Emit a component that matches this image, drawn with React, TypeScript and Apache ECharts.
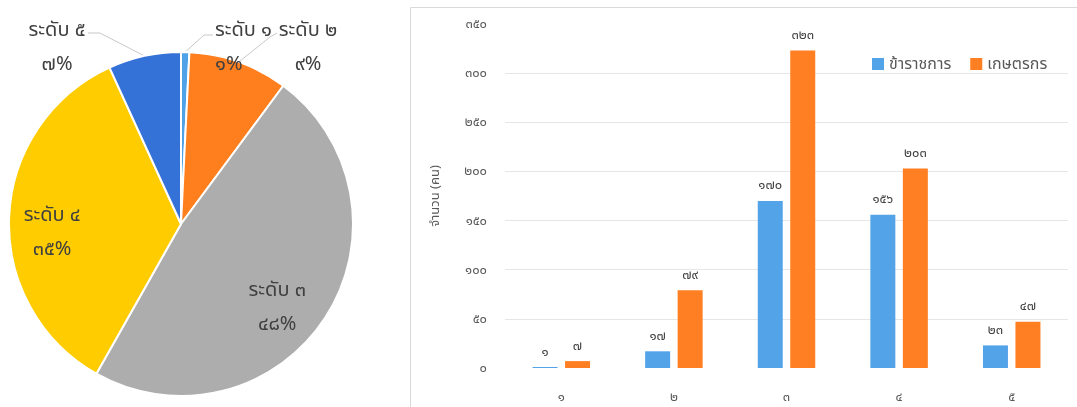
import React, { useEffect, useRef } from "react";
import * as echarts from "echarts";

const levelNames = ["ระดับ ๑", "ระดับ ๒", "ระดับ ๓", "ระดับ ๔", "ระดับ ๕"];
const levelTotals = [8, 96, 493, 359, 70];
const levelColors = ["#4FA2E8", "#FF7F1F", "#ADADAD", "#FFCC00", "#3572D8"];

const categories = ["๑", "๒", "๓", "๔", "๕"];
const seriesNames = ["ข้าราชการ", "เกษตรกร"];
const officials = [1, 17, 170, 156, 23];
const farmers = [7, 79, 323, 203, 47];
const barColors = ["#53A3E8", "#FF7F22"];

const FONT = "'Noto Sans Thai', 'Noto Sans', 'DejaVu Sans', sans-serif";
const THAI_DIGITS = "๐๑๒๓๔๕๖๗๘๙";
const toThai = (v: number | string) =>
  String(v).replace(/[0-9]/g, (d) => THAI_DIGITS[+d]);

const total = levelTotals.reduce((a, b) => a + b, 0);
const pctLabel = (name: string, value: number) =>
  `${name}\n${toThai(Math.round((value / total) * 100))}%`;

// placement of the outside pie labels (text anchor + leader line bends)
const outsideLabels: Record<number, any> = {
  0: { x: 215, y: 47, align: "left", line: [[204, 35], [213, 35]] },
  1: { x: 308, y: 47, align: "center", line: [[270, 37], [277, 33]] },
  4: { x: 57, y: 47, align: "center", line: [[100, 33], [88, 33]] },
};
// nudges of the inside pie labels
const insideNudge: Record<number, any> = {
  2: { dx: -12, dy: 13 },
  3: { dx: 0, dy: 14 },
};

export default function App() {
  const ref = useRef<HTMLDivElement>(null);
  useEffect(() => {
    if (!ref.current) return;
    const chart = echarts.init(ref.current, undefined, { renderer: "svg" });
    const pieLabelStyle = {
      fontSize: 20,
      lineHeight: 34,
      color: "#404040",
      align: "center",
      fontFamily: FONT,
    };
    const option: any = {
      animation: false,
      textStyle: { fontFamily: FONT },
      graphic: [
        {
          type: "rect",
          silent: true,
          z: -10,
          shape: { x: 410.5, y: 7.5, width: 700, height: 450 },
          style: { fill: "none", stroke: "#d9d9d9", lineWidth: 1 },
        },
      ],
      legend: {
        left: 867,
        top: 51,
        itemWidth: 12,
        itemHeight: 12,
        itemGap: 19,
        icon: "rect",
        data: seriesNames,
        textStyle: { fontSize: 16, color: "#595959", fontFamily: FONT },
      },
      grid: { left: 505, right: 9, top: 24, bottom: 39 },
      xAxis: {
        type: "category",
        data: categories,
        axisLine: { show: false },
        axisTick: { show: false },
        axisLabel: { margin: 22, fontSize: 13, color: "#595959" },
      },
      yAxis: {
        type: "value",
        min: 0,
        max: 350,
        interval: 50,
        name: "จำนวน (คน)",
        nameLocation: "middle",
        nameGap: 64,
        nameRotate: 90,
        nameTextStyle: { fontSize: 13, color: "#595959" },
        axisLine: { show: false },
        axisTick: { show: false },
        axisLabel: {
          margin: 18,
          fontSize: 13,
          color: "#595959",
          formatter: (v: number) => toThai(v),
        },
        splitLine: {
          showMaxLine: false,
          showMinLine: false,
          lineStyle: { color: "#e6e6e6", width: 1 },
        },
      },
      series: [
        ...[officials, farmers].map((vals, i) => ({
          type: "bar",
          name: seriesNames[i],
          data: vals,
          barWidth: 25,
          barGap: "30%",
          itemStyle: { color: barColors[i] },
          label: {
            show: true,
            position: "top",
            distance: 9,
            fontSize: 13,
            color: "#404040",
            formatter: (p: any) => toThai(p.value),
          },
        })),
        {
          type: "pie",
          center: [181, 224],
          radius: [0, 172],
          startAngle: 90,
          clockwise: true,
          avoidLabelOverlap: false,
          itemStyle: { borderColor: "#ffffff", borderWidth: 2 },
          emphasis: { disabled: true },
          data: levelNames.map((name, i) => ({
            name,
            value: levelTotals[i],
            itemStyle: { color: levelColors[i] },
            label: { show: outsideLabels[i] != null },
            labelLine: { show: outsideLabels[i] != null },
          })),
          label: {
            position: "outside",
            ...pieLabelStyle,
            formatter: (p: any) => pctLabel(p.name, p.value),
          },
          labelLine: {
            length: 15,
            length2: 8,
            lineStyle: { color: "#c8c8c8", width: 1 },
          },
          labelLayout: (params: any) => {
            const conf = outsideLabels[params.dataIndex];
            if (!conf) return {};
            const p0 = params.labelLinePoints
              ? params.labelLinePoints[0]
              : conf.line[0];
            return {
              x: conf.x,
              y: conf.y,
              align: conf.align,
              verticalAlign: "middle",
              labelLinePoints: [p0, conf.line[0], conf.line[1]],
            };
          },
        },
        {
          type: "pie",
          silent: true,
          center: [181, 224],
          radius: [80, 172],
          startAngle: 90,
          clockwise: true,
          avoidLabelOverlap: false,
          itemStyle: { color: "transparent", borderWidth: 0 },
          emphasis: { disabled: true },
          data: levelNames.map((name, i) => ({
            name,
            value: levelTotals[i],
            label: { show: outsideLabels[i] == null },
          })),
          label: {
            position: "inside",
            ...pieLabelStyle,
            formatter: (p: any) => pctLabel(p.name, p.value),
          },
          labelLine: { show: false },
          labelLayout: (params: any) => insideNudge[params.dataIndex] || {},
        },
      ],
    };
    chart.setOption(option);
    return () => chart.dispose();
  }, []);
  return (
    <div
      ref={ref}
      style={{ position: "fixed", left: 0, top: 0, width: 1077, height: 407 }}
    />
  );
}
